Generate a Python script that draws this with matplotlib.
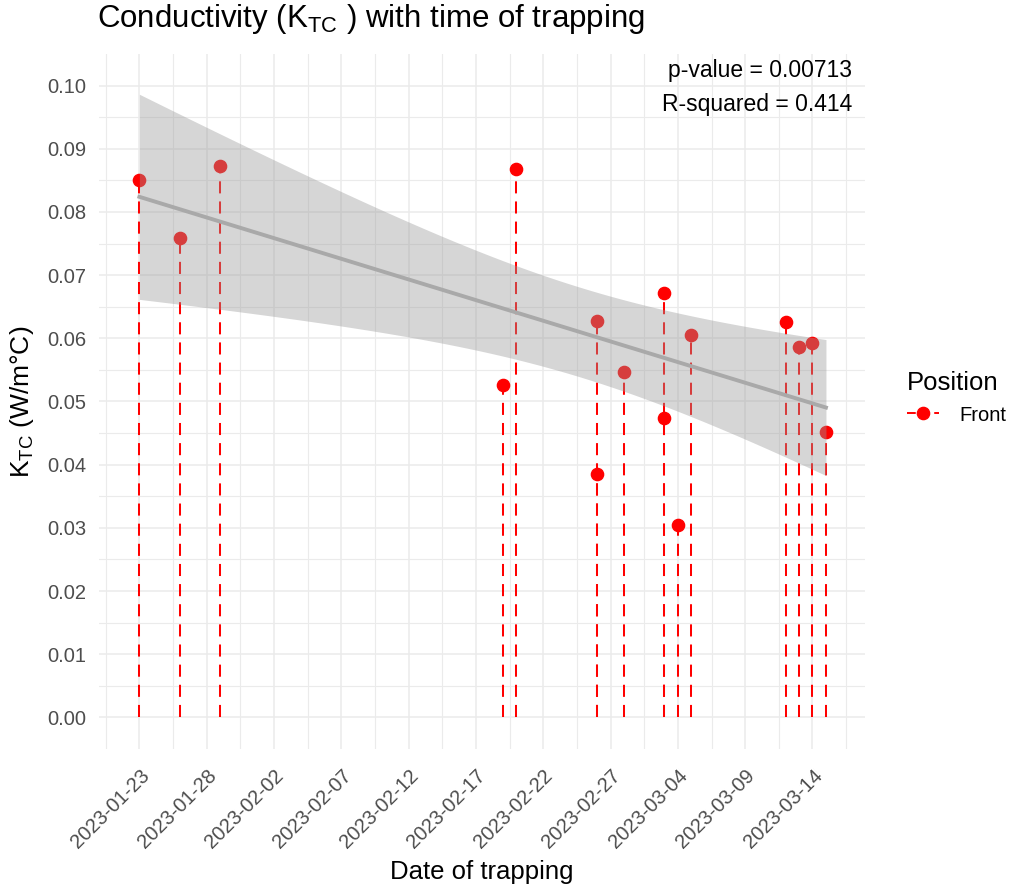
import numpy as np
import pandas as pd
import matplotlib
matplotlib.use("Agg")
import matplotlib.pyplot as plt
import matplotlib.dates as mdates
from matplotlib.lines import Line2D

plt.rcParams['font.family'] = ['Liberation Sans', 'DejaVu Sans']
plt.rcParams['mathtext.default'] = 'regular'

# data
dates = ["2023-01-23", "2023-01-26", "2023-01-29", "2023-02-19", "2023-02-20",
         "2023-02-26", "2023-02-26", "2023-02-28", "2023-03-03", "2023-03-03",
         "2023-03-04", "2023-03-05", "2023-03-12", "2023-03-13", "2023-03-14",
         "2023-03-15"]
k_tc = [0.0851, 0.0759, 0.0873, 0.0526, 0.0868,
        0.0628, 0.0386, 0.0546, 0.0672, 0.0474,
        0.0305, 0.0605, 0.0626, 0.0586, 0.0593,
        0.0452]
position = "Front"
p_text = "p-value = 0.00713"
r2_text = "R-squared = 0.414"

d = pd.to_datetime(dates)
x = mdates.date2num(d)
y = np.array(k_tc)

fig = plt.figure(figsize=(10.16, 8.9), dpi=100)
ax = fig.add_axes([99/1016, 1-749/890, (865-99)/1016, (749-54)/890])

# dashed drops + points
ax.vlines(x, 0, y, colors="red", linestyles=(0, (6, 4)), lw=1.45, zorder=2)
ax.plot(x, y, "o", color="red", ms=8.8, zorder=3)

# linear fit with 95% band (geom_smooth style), drawn over the points
n = len(x)
b, a = np.polyfit(x, y, 1)
xs = np.linspace(x.min(), x.max(), 200)
ys = a + b * xs
resid = y - (a + b * x)
s = np.sqrt(np.sum(resid**2) / (n - 2))
tq = 2.1448  # t(0.975, 14)
se = s * np.sqrt(1/n + (xs - x.mean())**2 / np.sum((x - x.mean())**2))
ax.fill_between(xs, ys - tq*se, ys + tq*se, color="#999999", alpha=0.4, lw=0, zorder=4)
ax.plot(xs, ys, color="darkgray", lw=2.8, zorder=5)

# scales
ax.set_xlim(x.min() - 3.0, x.max() + 2.9)
ax.set_ylim(-0.005, 0.105)
ticks = mdates.date2num(pd.date_range("2023-01-23", "2023-03-14", freq="5D"))
ax.set_xticks(ticks)
ax.set_xticks(np.append(ticks - 2.5, ticks[-1] + 2.5), minor=True)
ax.set_xticklabels([mdates.num2date(t).strftime("%Y-%m-%d") for t in ticks],
                   rotation=45, ha="right", rotation_mode="anchor")
yt = np.round(np.arange(0, 0.1001, 0.01), 2)
ax.set_yticks(yt)
ax.set_yticks(yt[:-1] + 0.005, minor=True)
ax.set_yticklabels(["%.2f" % v for v in yt])
ax.tick_params(which="both", length=0, labelsize=14.5, colors="#4D4D4D")
ax.tick_params(axis="y", pad=9)
ax.tick_params(axis="x", pad=12)
ax.grid(which="major", color="#EBEBEB", lw=1.1)
ax.grid(which="minor", color="#EBEBEB", lw=0.8)
ax.set_axisbelow(True)
for sp in ax.spines.values():
    sp.set_visible(False)

ax.set_xlabel("Date of trapping", fontsize=18.5, labelpad=6)
ax.set_ylabel("K$_{TC}$ (W/m°C)", fontsize=19, labelpad=8)
fig.text(97/1016, 1-19/890, "Conductivity (K$_{TC}$ ) with time of trapping",
         fontsize=22.5, va="center", ha="left")

ax.text(852/1016, 1-71/890, p_text, transform=fig.transFigure,
        ha="right", va="center", fontsize=16.5)
ax.text(852/1016, 1-104/890, r2_text, transform=fig.transFigure,
        ha="right", va="center", fontsize=16.5)

h = Line2D([], [], color="red", ls=(0, (4.5, 2.5)), lw=1.4, marker="o", ms=8.8)
leg = fig.legend([h], [position], title="Position", loc="center left",
                 bbox_to_anchor=(889/1016, 1-398/890), frameon=False,
                 fontsize=14.5, title_fontsize=18.5, handlelength=1.6,
                 handletextpad=1.0)
leg._legend_box.align = "left"

fig.savefig("out.png", dpi=100)
